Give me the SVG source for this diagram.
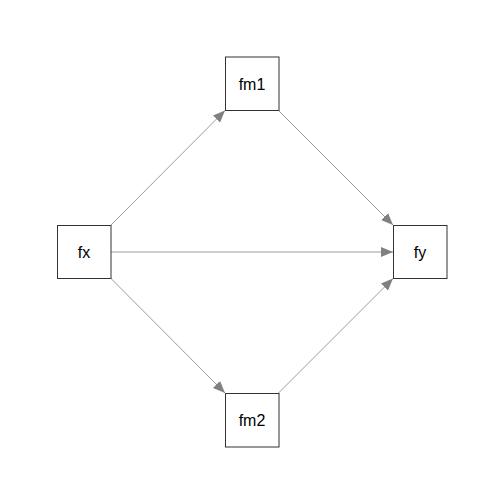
<svg xmlns="http://www.w3.org/2000/svg" width="504" height="504" viewBox="0 0 504 504">
<style>
.box{fill:#ffffff;stroke:#333333;stroke-width:1}
.lbl{font-family:"Liberation Sans",Arial,sans-serif;font-size:16px;fill:#000000;text-anchor:middle;dominant-baseline:central}
.edge{stroke:#909090;stroke-width:0.9;fill:none;marker-end:url(#arr)}
</style>
<defs>
<marker id="arr" viewBox="0 0 12 10" refX="12" refY="5" markerWidth="12" markerHeight="10" markerUnits="userSpaceOnUse" orient="auto">
<path d="M0,0 L12,5 L0,10 Z" fill="#808080"/>
</marker>
</defs>
<rect width="504" height="504" fill="#ffffff"/>
<g id="connectors">
<line class="edge" x1="111" y1="225" x2="225" y2="110.5"/>
<line class="edge" x1="278.5" y1="110.5" x2="393" y2="225"/>
<line class="edge" x1="111" y1="252" x2="393" y2="252"/>
<line class="edge" x1="111" y1="278.5" x2="225" y2="393"/>
<line class="edge" x1="278.5" y1="393" x2="393" y2="278.5"/>
</g>
<g id="fx">
<rect class="box" x="57.5" y="225.5" width="53.5" height="53"/>
<text class="lbl" x="84" y="252">fx</text>
</g>
<g id="fm1">
<rect class="box" x="225.5" y="57" width="53.5" height="53.5"/>
<text class="lbl" x="252" y="84">fm1</text>
</g>
<g id="fy">
<rect class="box" x="393.5" y="225.5" width="53.5" height="53"/>
<text class="lbl" x="420" y="252">fy</text>
</g>
<g id="fm2">
<rect class="box" x="225.5" y="393.5" width="53.5" height="53.5"/>
<text class="lbl" x="252" y="420">fm2</text>
</g>
</svg>
